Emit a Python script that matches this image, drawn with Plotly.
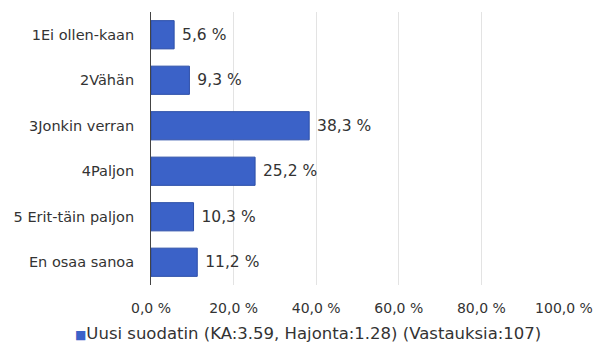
import plotly.graph_objects as go

categories = ["1Ei ollen-kaan", "2Vähän", "3Jonkin verran", "4Paljon", "5 Erit-täin paljon", "En osaa sanoa"]
values = [5.6, 9.3, 38.3, 25.2, 10.3, 11.2]
series_name = "Uusi suodatin (KA:3.59, Hajonta:1.28) (Vastauksia:107)"
tick_vals = [0, 20, 40, 60, 80, 100]
tick_text = ["0,0 %", "20,0 %", "40,0 %", "60,0 %", "80,0 %", "100,0 %"]

bar_color = "#3b62c8"
labels = ["\u00a0" + f"{v:.1f}".replace(".", ",") + " %" for v in values]

fig = go.Figure()
fig.add_trace(go.Bar(
    y=categories, x=values, orientation="h",
    name=series_name,
    marker=dict(color=bar_color, line=dict(color="#2c4ea8", width=1)),
    width=0.62,
    text=labels, textposition="outside",
    textfont=dict(family="DejaVu Sans", size=15.5, color="#333333"),
    cliponaxis=False,
    showlegend=False,
))

fig.add_annotation(
    xref="paper", yref="paper", x=(312 - 151) / (574 - 151), y=-(333 - 285) / (285 - 12),
    xanchor="center", yanchor="middle", showarrow=False,
    text=f'<span style="font-size:12px;color:{bar_color}">■</span>{series_name}',
    font=dict(family="DejaVu Sans", size=16.5, color="#333333"),
)

fig.update_layout(
    width=605, height=342,
    margin=dict(l=151, r=31, t=12, b=57),
    paper_bgcolor="white", plot_bgcolor="white",
    font=dict(family="DejaVu Sans", color="#333333"),
    showlegend=False,
    xaxis=dict(range=[0, 100], tickvals=tick_vals, ticktext=tick_text,
               showgrid=True, gridcolor="#e3e3e3", gridwidth=1,
               zeroline=False, showline=False,
               tickfont=dict(size=14, color="#333333"),
               ticklabelstandoff=13, fixedrange=True),
    yaxis=dict(autorange="reversed", showline=True, linecolor="#444444", linewidth=1,
               tickfont=dict(size=14.5, color="#333333"),
               ticklabelstandoff=13, showgrid=False),
)

fig.write_html("out.html")
